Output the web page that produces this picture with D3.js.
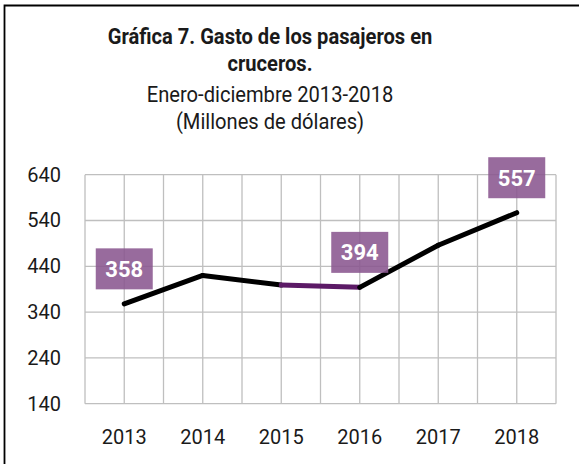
<!DOCTYPE html>
<html>
<head>
<meta charset="utf-8">
<script src="https://cdn.jsdelivr.net/npm/d3@7"></script>
<style>
  body { margin: 0; background: #fff; }
  text { font-family: Roboto, "Noto Sans", sans-serif; }
</style>
</head>
<body>
<svg id="chart"></svg>
<script>
// data
const years = ['2013', '2014', '2015', '2016', '2017', '2018'];
const gasto = [358, 420, 399, 394, 486, 557];
const labelled = ['2013', '2016', '2018'];
const segColors = ['#000', '#000', '#5c1a66', '#000', '#000'];
const yTicks = [140, 240, 340, 440, 540, 640];
const titleLines = ['Gráfica 7. Gasto de los pasajeros en', 'cruceros.'];
const subLines = ['Enero-diciembre 2013-2018', '(Millones de dólares)'];

const width = 579, height = 464;
const margin = {top: 174.7, right: 23, bottom: 60.3, left: 85};

const svg = d3.select('#chart')
    .attr('width', width)
    .attr('height', height);

// outer frame (only top and left visible)
svg.append('path')
    .attr('d', `M4.5,${height} V5.5 H${width}`)
    .attr('fill', 'none')
    .attr('stroke', '#000')
    .attr('stroke-width', 1.8);

// titles, squeezed a bit to look like the condensed original font
const head = svg.append('g')
    .attr('transform', 'translate(270,0) scale(0.915,1)');

head.selectAll('.title')
    .data(titleLines)
    .join('text')
    .attr('x', 0)
    .attr('y', (d, i) => 44 + i * 27)
    .attr('text-anchor', 'middle')
    .attr('font-size', 22)
    .attr('font-weight', 'bold')
    .attr('fill', '#1a1a1a')
    .text(d => d);

head.selectAll('.sub')
    .data(subLines)
    .join('text')
    .attr('x', 0)
    .attr('y', (d, i) => 102 + i * 27)
    .attr('text-anchor', 'middle')
    .attr('font-size', 22)
    .attr('fill', '#1a1a1a')
    .text(d => d);

const x = d3.scaleBand()
    .domain(years)
    .range([margin.left, width - margin.right]);

const y = d3.scaleLinear()
    .domain([140, 640])
    .range([height - margin.bottom, margin.top]);

const cx = d => x(d) + x.bandwidth() / 2;

// grid
const grid = svg.append('g')
    .attr('stroke', '#bfbfbf')
    .attr('stroke-width', 1.3);

const vlines = [];
years.forEach(d => { vlines.push(x(d)); vlines.push(cx(d)); });
vlines.push(width - margin.right);

grid.selectAll('.v')
    .data(vlines)
    .join('line')
    .attr('x1', d => d).attr('x2', d => d)
    .attr('y1', y(640)).attr('y2', y(140));

grid.selectAll('.h')
    .data(yTicks)
    .join('line')
    .attr('x1', margin.left).attr('x2', width - margin.right)
    .attr('y1', d => y(d)).attr('y2', d => y(d));

// axes (labels only)
const yaxis = d3.axisLeft(y)
    .tickValues(yTicks)
    .tickSize(0)
    .tickPadding(24);

const xaxis = d3.axisBottom(x)
    .tickSize(0)
    .tickPadding(26);

svg.append('g')
    .attr('transform', `translate(${margin.left},0)`)
    .call(yaxis)
    .call(g => g.select('.domain').remove())
    .selectAll('text')
    .attr('font-family', 'Roboto, sans-serif')
    .attr('font-size', 20)
    .attr('fill', '#1a1a1a');

svg.append('g')
    .attr('transform', `translate(0,${height - margin.bottom})`)
    .call(xaxis)
    .call(g => g.select('.domain').remove())
    .selectAll('text')
    .attr('font-family', 'Roboto, sans-serif')
    .attr('font-size', 20)
    .attr('fill', '#1a1a1a');

// line, drawn segment by segment
const pts = years.map((d, i) => ({year: d, value: gasto[i]}));
const line = d3.line()
    .x(d => cx(d.year))
    .y(d => y(d.value));

svg.append('g')
    .selectAll('path')
    .data(d3.pairs(pts))
    .join('path')
    .attr('d', d => line(d))
    .attr('fill', 'none')
    .attr('stroke', (d, i) => segColors[i])
    .attr('stroke-width', 5)
    .attr('stroke-linecap', 'round');

// value labels
const lab = svg.append('g')
    .selectAll('g')
    .data(pts.filter(d => labelled.includes(d.year)))
    .join('g')
    .attr('transform', d => `translate(${cx(d.year)},${y(d.value) - 35})`);

lab.append('rect')
    .attr('x', -28.5).attr('y', -20.5)
    .attr('width', 57).attr('height', 41)
    .attr('fill', '#8a5690')
    .attr('fill-opacity', 0.88);

lab.append('text')
    .attr('text-anchor', 'middle')
    .attr('dy', '0.36em')
    .attr('font-family', '"Open Sans", sans-serif')
    .attr('font-weight', 'bold')
    .attr('font-size', 22)
    .attr('fill', '#fff')
    .text(d => d.value);
</script>
</body>
</html>
